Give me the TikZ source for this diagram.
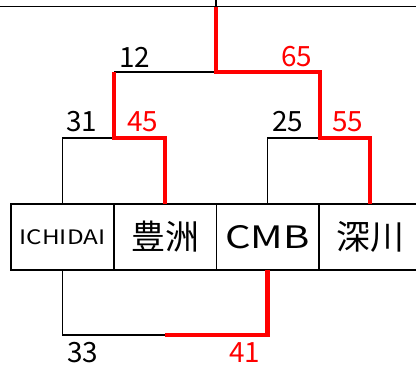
\documentclass[tikz,border=0pt]{standalone}
\usepackage{fontspec}
\setmainfont{Noto Sans CJK JP}
\usetikzlibrary{positioning}

\begin{document}
\begin{tikzpicture}[x=1bp,y=-1bp,line cap=butt,line join=miter,
  box/.style={draw,line width=1.5bp,minimum width=102.5bp,minimum height=66bp,inner sep=0pt,outer sep=0pt,font=\fontsize{34}{34}\selectfont},
  branch/.style={line width=1.5bp},
  hot/.style={red,line width=4.5bp},
  num/.style={font=\fontsize{28}{28}\selectfont,inner sep=0pt}]
        \useasboundingbox (0,0) rectangle (416,373);
        % leaves
        \node[box] (ichidai) at (62.5,237) {\fontsize{20}{20}\selectfont\scalebox{1.22}[1]{ICHIDAI}};
        \node[box,right=0pt of ichidai] (toyosu) {豊洲};
        \node[box,right=0pt of toyosu] (cmb) {\fontsize{31}{31}\selectfont\scalebox{1.3}[1]{CMB}};
        \node[box,right=0pt of cmb] (fukagawa) {深川};
        % joins
        \coordinate (jl) at (114,138);
        \coordinate (jr) at (320,138);
        \coordinate (jt) at (216,72);
        \coordinate (top) at (216,6.5);
        \coordinate (jb) at (165,335);
        % black branches
        \draw[branch] (0,6.5) -- (416,6.5);
        \draw[branch] (216,0) -- (top);
        \draw[branch] (ichidai.north) |- (jl);
        \draw[branch] (cmb.north) |- (jr);
        \draw[branch] (jl |- jt) -- (jt);
        \draw[branch] (ichidai.south) |- (jb);
        % red path
        \draw[hot] (jl |- jt) -- (jl) -| (toyosu.north);
        \draw[hot] (top) -- (jt) -| (jr) -| (fukagawa.north);
        \draw[hot] (jb) -| (cmb.south);
        % heights
        \node[num] (n12) at (135,57) {12};
        \node[num,red] (n65) at (297,57) {65};
        \node[num] (n31) at (82,122) {31};
        \node[num,red] (n45) at (143,122) {45};
        \node[num] (n25) at (288,122) {25};
        \node[num,red] (n55) at (348,122) {55};
        \node[num] (n33) at (83,353) {33};
        \node[num,red] (n41) at (245,353) {41};
\end{tikzpicture}
\end{document}
